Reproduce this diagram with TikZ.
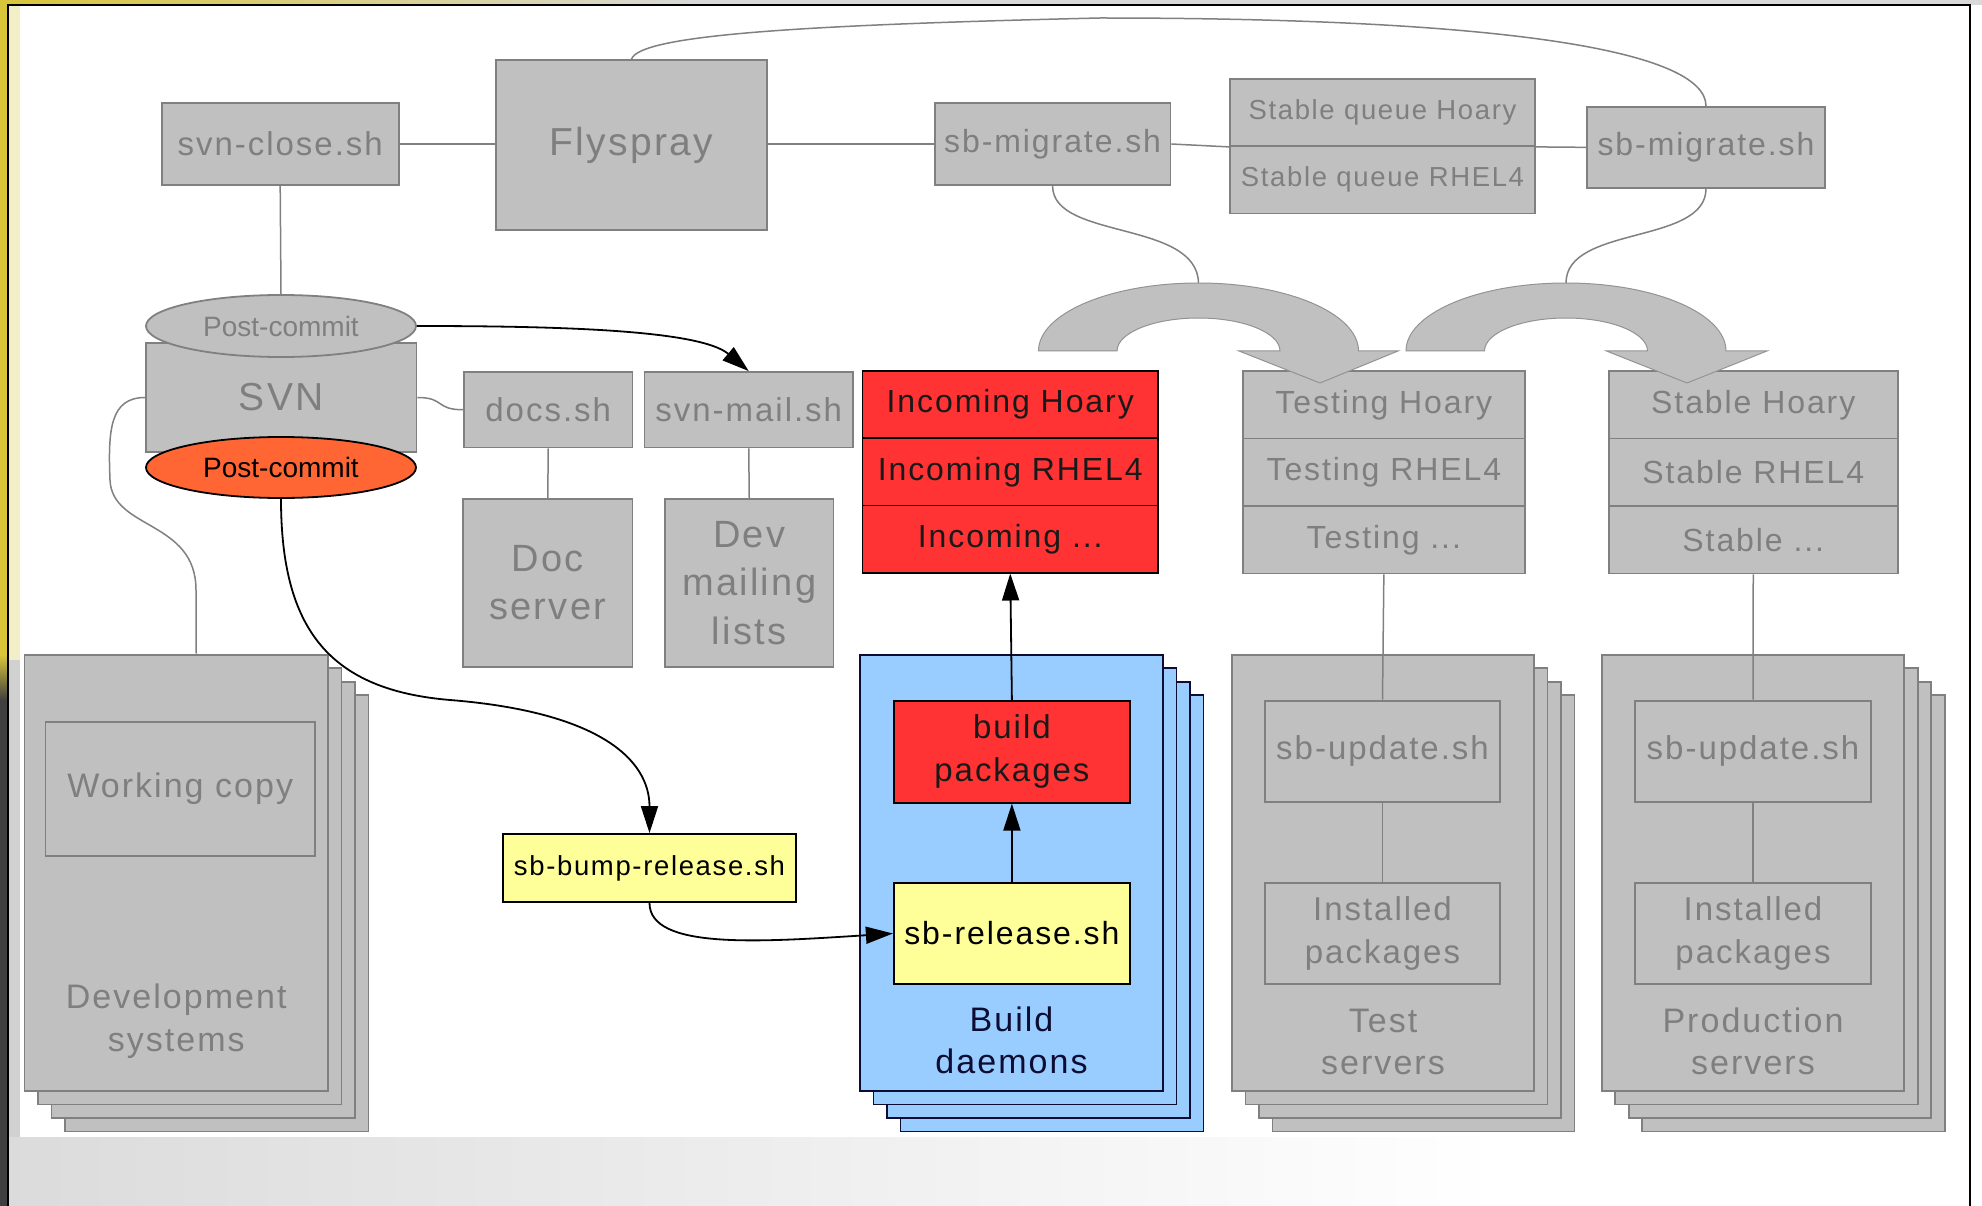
\documentclass[tikz,border=0pt]{standalone}
\usepackage{fontspec}
\setmainfont{Liberation Sans}[LetterSpace=6]
\newfontfamily\tightfont{Liberation Sans}
\usetikzlibrary{arrows.meta,shapes.geometric}
\definecolor{boxgray}{HTML}{C0C0C0}
\definecolor{edgegray}{HTML}{808080}
\definecolor{textgray}{HTML}{7F7F7F}
\definecolor{alarmred}{HTML}{FF3333}
\definecolor{hookorange}{HTML}{FF6633}
\definecolor{scriptyellow}{HTML}{FFFF99}
\definecolor{daemonblue}{HTML}{99CCFF}
\definecolor{navy}{HTML}{0D0D33}
\definecolor{desk}{HTML}{D8C53A}
\definecolor{paleyellow}{HTML}{F2EEC8}
\newcommand{\sizeat}[2]{\fontsize{#1}{#2}\selectfont}
% three sheets stacked behind a front sheet given by its corners
\newcommand{\backlayers}[5]{%
  \foreach \k in {3,2,1}{%
    \draw[#1] (#2+13.5*\k,#3+13.5*\k) rectangle (#4+13.5*\k,#5+13.5*\k);}}
\begin{document}
\begin{tikzpicture}[x=1pt,y=-1pt,
  graybox/.style={draw=edgegray, fill=boxgray, text=textgray, line width=1.8pt, inner sep=0pt, align=center},
  redbox/.style={draw=black, fill=alarmred, text=black!90, line width=1.8pt, inner sep=0pt, align=center},
  yellowbox/.style={draw=black, fill=scriptyellow, text=black, line width=1.8pt, inner sep=0pt, align=center},
  bluelayer/.style={draw=navy, fill=daemonblue, line width=1.8pt},
  graylayer/.style={draw=edgegray, fill=boxgray, line width=1.8pt},
  hookshape/.style={ellipse, line width=1.8pt, inner sep=0pt, font=\tightfont\sizeat{28}{32}},
  sz/.style 2 args={minimum width=#1pt, minimum height=#2pt},
  fs/.style 2 args={font=\sizeat{#1}{#2}},
  link/.style={draw=edgegray, line width=1.5pt},
  flow/.style={draw=black, line width=1.8pt, -{Triangle[length=27pt,width=17pt]}},
  arcshape/.style={fill=boxgray, draw=edgegray!85, line width=1pt},
  caption/.style={inner sep=0pt, align=center},
]
\useasboundingbox (0,0) rectangle (1982,1206);

% ---- surroundings of the sheet ----
\fill[white] (0,0) rectangle (1982,1206);
\shade[left color=desk, right color=black!15] (0,0) rectangle (700,5);
\fill[black!15] (700,0) rectangle (1982,5);
\fill[desk] (0,0) rectangle (8,655);
\shade[top color=desk, bottom color=black!75] (0,655) rectangle (8,700);
\fill[black!75] (0,700) rectangle (8,1206);
\fill[paleyellow] (9,5) rectangle (20,660);
\fill[black!18] (9,660) rectangle (20,1206);
\shade[left color=black!14, right color=white] (9,1137) rectangle (1500,1206);
\draw[line width=2pt, black] (8,1206) -- (8,5) -- (1970,5) -- (1970,1206);

% ---- top row ----
\node[graybox, sz={237}{82.6}, fs={33}{40}] (svnclose) at (280.2,144) {svn-close.sh};
\node[graybox, sz={271}{170}, fs={39}{46}] (flyspray) at (631.5,145) {Flyspray};
\node[graybox, sz={235.7}{82.6}, fs={32}{38}] (migA) at (1052.6,144) {sb-migrate.sh};
\node[graybox, sz={305}{67}, fs={27.5}{32}] (queueH) at (1382.5,112.5) {Stable queue Hoary};
\node[graybox, sz={305}{67.5}, fs={27.5}{32}] (queueR) at (1382.5,179.75) {Stable queue RHEL4};
\node[graybox, sz={238}{80.7}, fs={32}{38}] (migB) at (1706,147.35) {sb-migrate.sh};

% ---- repository ----
\node[graybox, sz={270.5}{109}, fs={39}{46}] (svn) at (281.25,397.5) {SVN};
\node[hookshape, draw=edgegray, fill=boxgray, text=textgray, minimum width=270pt, minimum height=62pt] (pcgray) at (281,326) {Post-commit};
\node[hookshape, draw=black, fill=hookorange, text=black, minimum width=270pt, minimum height=61pt] (pcorange) at (281,467.5) {Post-commit};

\node[graybox, sz={168.5}{75.5}, fs={33}{40}] (docs) at (548.25,409.75) {docs.sh};
\node[graybox, sz={208.5}{75.5}, fs={33}{40}] (svnmail) at (748.75,409.75) {svn-mail.sh};
\node[graybox, sz={169.5}{168}, fs={38}{48}] (docsrv) at (547.75,583) {Doc\\server};
\node[graybox, sz={168.5}{168}, fs={38}{48.5}] (devml) at (749.25,583) {Dev\\mailing\\lists};

% ---- queues ----
\node[redbox, sz={295.5}{67.2}, fs={32}{38}] (incH) at (1010.25,404.6) {Incoming Hoary};
\node[redbox, sz={295.5}{67.2}, fs={32}{38}] (incR) at (1010.25,471.8) {Incoming RHEL4};
\node[redbox, sz={295.5}{67.2}, fs={32}{38}] (incX) at (1010.25,539) {Incoming ...};

\node[graybox, sz={282.3}{67.5}, fs={32}{38}] (tstH) at (1383.85,404.75) {Testing Hoary};
\node[graybox, sz={282.3}{67.5}, fs={32}{38}] (tstR) at (1383.85,472.25) {Testing RHEL4};
\node[graybox, sz={282.3}{67.5}, fs={32}{38}] (tstX) at (1383.85,539.75) {Testing ...};

\node[graybox, sz={289.1}{67.5}, fs={32}{38}] (stbH) at (1753.25,404.75) {Stable Hoary};
\node[graybox, sz={289.1}{67.5}, fs={32}{38}] (stbR) at (1753.25,472.25) {Stable RHEL4};
\node[graybox, sz={289.1}{67.5}, fs={32}{38}] (stbX) at (1753.25,539.75) {Stable ...};

% ---- development systems ----
\backlayers{graylayer}{24.5}{654.6}{328}{1091}
\node[graybox, sz={303.5}{436.4}] (dev) at (176.25,872.8) {};
\node[graybox, sz={269.5}{134}, fs={34}{40}] (wc) at (180.25,789) {Working copy};
\node[caption, text=textgray, fs={34}{43}] (devlabel) at (176.25,1021.5) {Development\\systems};

% ---- build daemons ----
\backlayers{bluelayer}{860}{654.6}{1163}{1091}
\node[bluelayer, sz={303}{436.4}, inner sep=0pt] (bd) at (1011.5,872.8) {};
\node[redbox, sz={236.25}{101.7}, fs={33}{43}] (buildpk) at (1011.9,751.85) {build\\packages};
\node[yellowbox, sz={236.25}{101}, fs={32}{38}] (sbrel) at (1011.9,933.5) {sb-release.sh};
\node[caption, text=navy, fs={34}{42}] (bdlabel) at (1011.5,1040.5) {Build\\daemons};

\node[yellowbox, sz={293}{68}, fs={27.5}{32}] (bump) at (649.5,868) {sb-bump-release.sh};

% ---- test servers ----
\backlayers{graylayer}{1232}{654.6}{1534}{1091}
\node[graybox, sz={302}{436.4}] (test) at (1383,872.8) {};
\node[graybox, sz={235}{101.4}, fs={33}{40}] (tupd) at (1382.5,751.3) {sb-update.sh};
\node[graybox, sz={235}{101}, fs={33}{43}] (tinst) at (1382.5,933.5) {Installed\\packages};
\node[caption, text=textgray, fs={34}{42}] (testlabel) at (1383,1041.6) {Test\\servers};

% ---- production servers ----
\backlayers{graylayer}{1601.7}{654.6}{1904.3}{1091}
\node[graybox, sz={302.6}{436.4}] (prod) at (1753,872.8) {};
\node[graybox, sz={236}{101.4}, fs={33}{40}] (pupd) at (1753,751.3) {sb-update.sh};
\node[graybox, sz={236}{101}, fs={33}{43}] (pinst) at (1753,933.5) {Installed\\packages};
\node[caption, text=textgray, fs={34}{42}] (prodlabel) at (1753,1041.6) {Production\\servers};

% ---- gray links ----
\draw[link] (svnclose.east) -- (svnclose.east -| flyspray.west);
\draw[link] (flyspray.east |- migA.west) -- (migA.west);
\draw[link] (migA.east) -- (queueH.south west);
\draw[link] (queueH.south east) -- (migB.west);
\draw[link] (svnclose.south) -- (pcgray.north);
\draw[link] (svn.east) .. controls (445,397.5) and (435,409.75) .. (docs.west);
\draw[link] (svn.west) .. controls (110,397.5) and (108,430) .. (110,480)
  .. controls (112,530) and (196,520) .. (196,590) -- ([xshift=20pt]dev.north);
\draw[link] (docs.south) -- (docsrv.north);
\draw[link] (svnmail.south) -- (devml.north);
\draw[link] (flyspray.north) .. controls (640,35) and (800,25) .. (1100,18)
  .. controls (1500,18) and (1706,50) .. (migB.north);
\coordinate (arcA) at (1198.5,283);
\coordinate (arcB) at (1566,283);
\draw[link] (migA.south) .. controls (1053,240) and (1197,220) .. (arcA);
\draw[link] (migB.south) .. controls (1706,245) and (1566,225) .. (arcB);
\draw[link] (tstX.south) -- (tupd.north);
\draw[link] (tupd.south) -- (tinst.north);
\draw[link] (stbX.south) -- (pupd.north);
\draw[link] (pupd.south) -- (pinst.north);

% ---- promotion arcs ----
\path[arcshape] (1038.5,351) arc[start angle=180,end angle=0,x radius=160pt,y radius=68pt]
  -- (1398,351) -- (1320,383) -- (1239,351) -- (1280,351)
  arc[start angle=0,end angle=180,x radius=81.5pt,y radius=33pt] -- cycle;
\path[arcshape] (1406,351) arc[start angle=180,end angle=0,x radius=160pt,y radius=68pt]
  -- (1767,351) -- (1687,383) -- (1606.5,351) -- (1647.5,351)
  arc[start angle=0,end angle=180,x radius=81.5pt,y radius=33pt] -- cycle;

% ---- black flows ----
\draw[flow] (pcgray.east) .. controls (560,326) and (700,330) .. (svnmail.north);
\draw[flow] (pcorange.south) .. controls (281,630) and (330,690) .. (450,700)
  .. controls (600,712) and (649.5,760) .. (bump.north);
\draw[flow] (bump.south) .. controls (649.5,950) and (760,942) .. (sbrel.west);
\draw[flow] (sbrel.north) -- (buildpk.south);
\draw[flow] (buildpk.north) -- (incX.south);
\end{tikzpicture}
\end{document}
